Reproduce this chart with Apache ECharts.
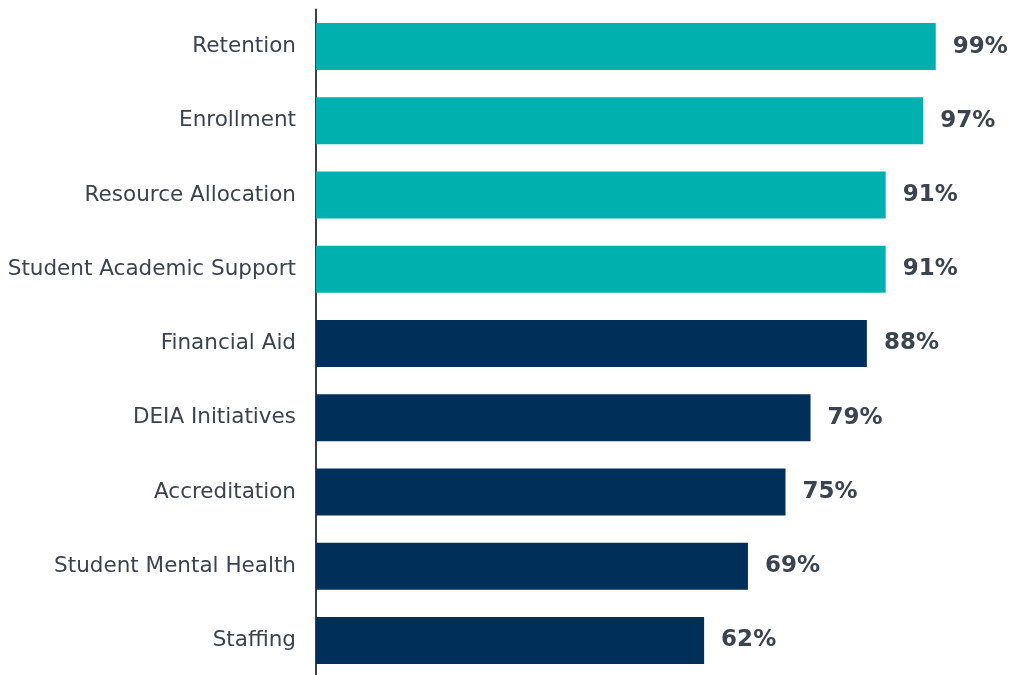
<!DOCTYPE html>
<html>
<head>
<meta charset="utf-8">
<script src="https://cdn.jsdelivr.net/npm/echarts@6/dist/echarts.min.js"></script>
<style>
  html, body { margin: 0; padding: 0; background: #fff; }
  #chart { width: 1012px; height: 675px; }
</style>
</head>
<body>
<div id="chart"></div>
<script>
// categories top to bottom
const categories = [
  'Retention', 'Enrollment', 'Resource Allocation', 'Student Academic Support',
  'Financial Aid', 'DEIA Initiatives', 'Accreditation', 'Student Mental Health', 'Staffing'
];
const values = [99, 97, 91, 91, 88, 79, 75, 69, 62];
// first four are highlighted in teal
const highlighted = [true, true, true, true, false, false, false, false, false];

const TEAL = '#00B0AF';
const NAVY = '#00305A';
const TEXT = '#3B4350';

const chart = echarts.init(document.getElementById('chart'));

chart.setOption({
  animation: false,
  grid: {
    left: 316, top: 9.5, width: 626, height: 668,
    containLabel: false, outerBoundsMode: 'none'
  },
  xAxis: {
    type: 'value', min: 0, max: 100,
    show: false
  },
  yAxis: {
    type: 'category',
    inverse: true,
    data: categories,
    axisLine: { show: true, onZero: false, lineStyle: { color: '#3A3F4A', width: 2 } },
    axisTick: { show: false },
    axisLabel: {
      margin: 20,
      color: TEXT,
      fontFamily: 'DejaVu Sans',
      fontSize: 21.5
    }
  },
  series: [{
    type: 'bar',
    barWidth: 47,
    data: values.map((v, i) => ({
      value: v,
      itemStyle: { color: highlighted[i] ? TEAL : NAVY }
    })),
    label: {
      show: true,
      position: 'right',
      distance: 17,
      formatter: '{c}%',
      color: TEXT,
      fontFamily: 'DejaVu Sans',
      fontWeight: 'bold',
      fontSize: 23
    }
  }]
});
</script>
</body>
</html>
